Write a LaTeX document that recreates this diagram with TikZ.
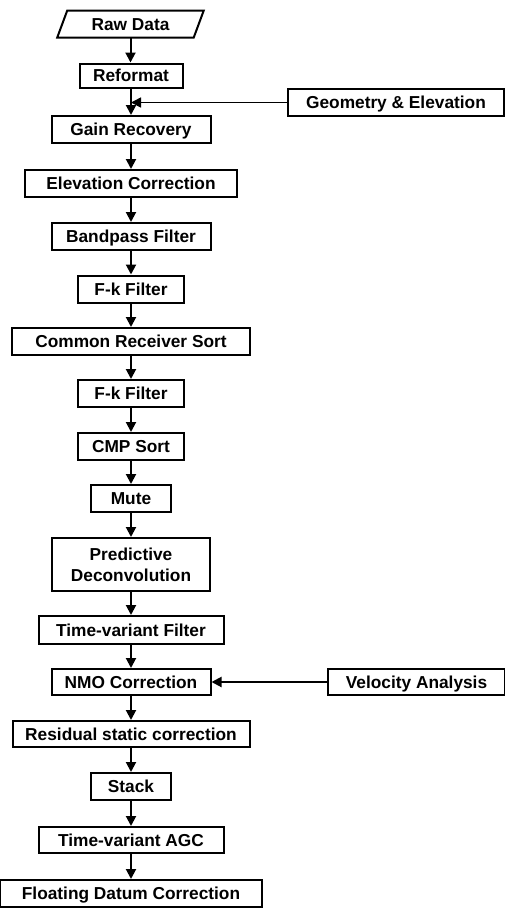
\documentclass[tikz,border=0pt]{standalone}
\usepackage{fontspec}
\setmainfont{Liberation Sans}
\usetikzlibrary{arrows.meta,calc}
\begin{document}
\begin{tikzpicture}[x=1pt,y=-1pt,
  box/.style={draw, line width=2pt, inner sep=0pt, align=center,
    text height=12.3pt, text depth=0pt,
    font=\fontsize{17.3}{21.5}\selectfont\bfseries, minimum height=27},
  arr/.style={line width=2pt, -{Triangle[width=10pt,length=10pt]}}]
\useasboundingbox (0,0) rectangle (505,908);
% Raw data (parallelogram)
\node[box, draw=none, minimum width=134.5, minimum height=25] (raw) at (130.5,24) {Raw Data};
\draw[line width=2pt, line join=miter] ($(raw.north west)+(5,0)$) -- ($(raw.north east)+(5,0)$)
  -- ($(raw.south east)-(5,0)$) -- ($(raw.south west)-(5,0)$) -- cycle;
\node[box, minimum width=103, minimum height=24] (reformat) at (131,75.5) {Reformat};
\node[box, minimum width=216] (geo) at (396,102.5) {Geometry \& Elevation};
\node[box, minimum width=159] (gain) at (131,129.5) {Gain Recovery};
\node[box, minimum width=212] (elev) at (131,183.5) {Elevation Correction};
\node[box, minimum width=159] (band) at (131,236.5) {Bandpass Filter};
\node[box, minimum width=106] (fka) at (131,289) {F-k Filter};
\node[box, minimum width=238] (crs) at (131,341.5) {Common Receiver Sort};
\node[box, minimum width=106] (fkb) at (131,393.5) {F-k Filter};
\node[box, minimum width=106] (cmp) at (131,446.5) {CMP Sort};
\node[box, minimum width=80] (mute) at (131,498.5) {Mute};
\node[box, minimum width=158, minimum height=53, text height=34pt] (pd) at (131,564.5) {Predictive\\Deconvolution};
\node[box, minimum width=185, minimum height=28] (tvf) at (131,630) {Time-variant Filter};
\node[box, minimum width=159, minimum height=26] (nmo) at (131,682) {NMO Correction};
\node[box, minimum width=177, minimum height=26] (va) at (416.5,682) {Velocity Analysis};
\node[box, minimum width=237, minimum height=26] (rsc) at (131,734) {Residual static correction};
\node[box, minimum width=80] (stack) at (131,786.5) {Stack};
\node[box, minimum width=185, minimum height=26] (agc) at (131,840) {Time-variant AGC};
\node[box, minimum width=262] (fdc) at (131,893.5) {Floating Datum Correction};
% vertical arrows
\foreach \a/\b in {raw/reformat, reformat/gain, gain/elev, elev/band, band/fka, fka/crs,
  crs/fkb, fkb/cmp, cmp/mute, mute/pd, pd/tvf, tvf/nmo, nmo/rsc, rsc/stack, stack/agc, agc/fdc}
  \draw[arr] (\a.south) -- (\a.south |- \b.north);
% side inputs
\coordinate (join) at ($(reformat.south)!0.5!(reformat.south |- gain.north)$);
\draw[arr, line width=1.6pt] (geo.west) -- (geo.west -| join);
\draw[arr] (va.west) -- (nmo.east);
\end{tikzpicture}
\end{document}
